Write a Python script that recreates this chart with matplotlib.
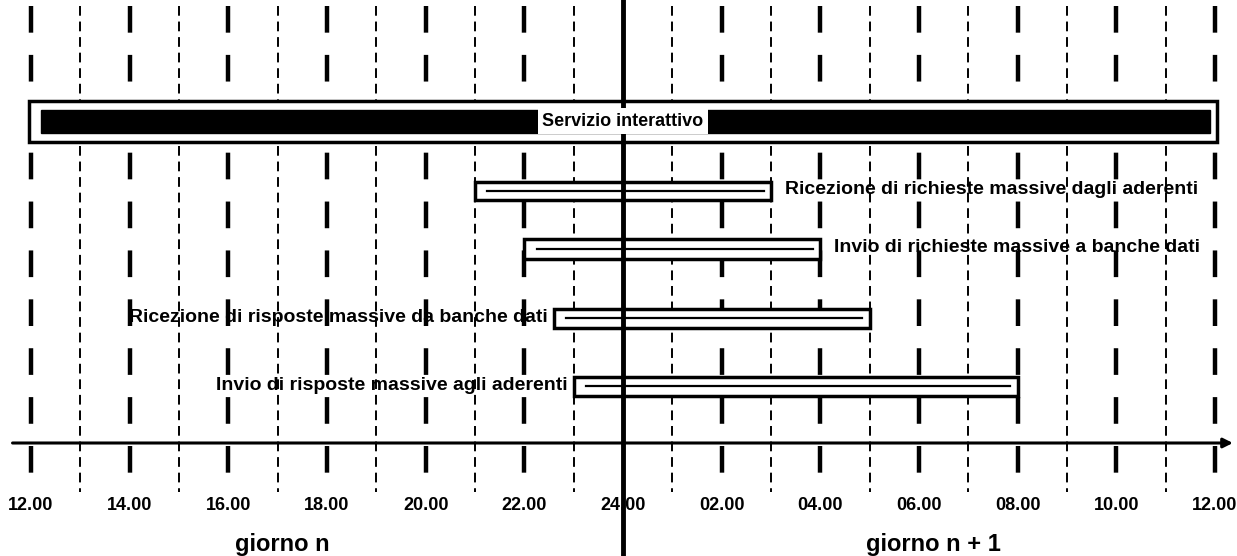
import matplotlib.pyplot as plt
import numpy as np

# Timeline of the batch services (hours counted from midnight of day n)
task_labels = ['Servizio interattivo',
               'Ricezione di richieste massive dagli aderenti',
               'Invio di richieste massive a banche dati',
               'Ricezione di risposte massive da banche dati',
               'Invio di risposte massive agli aderenti']
start_hours = [12, 21, 22, 22.6, 23]
end_hours = [36, 27, 28, 29, 32]
label_side = ['center', 'right', 'right', 'left', 'left']

tick_hours = list(range(12, 37, 2))
tick_labels = ['12.00', '14.00', '16.00', '18.00', '20.00', '22.00', '24.00',
               '02.00', '04.00', '06.00', '08.00', '10.00', '12.00']
day_labels = ['giorno n', 'giorno n + 1']
day_label_hours = [17.1, 30.3]

plt.rcParams['font.family'] = ['Liberation Sans', 'DejaVu Sans']

fig = plt.figure(figsize=(12.37, 5.56), dpi=100)
ax = fig.add_axes([0, 0, 1, 1])
ax.set_xlim(11.372, 36.447)
ax.set_ylim(556, 0)
ax.axis('off')

# hour grid: even hours bold dashes, odd hours thin dashes
for h in range(12, 37):
    if h == 24:
        continue
    if h % 2 == 0:
        ax.plot([h, h], [6, 492], color='black', lw=3.2, linestyle=(0, (6, 5)), zorder=1)
    else:
        ax.plot([h, h], [6, 492], color='black', lw=1.4, linestyle=(0, (5, 3)), zorder=1)

# midnight line
ax.plot([24, 24], [0, 556], color='black', lw=3.5, zorder=5)

# x axis with arrow
ax.annotate('', xy=(36.42, 443), xytext=(11.57, 443), annotation_clip=False,
            arrowprops=dict(arrowstyle='-|>', color='black', lw=2.2, mutation_scale=14),
            zorder=4)

# bars
y_centers = [121, 191, 249, 318, 386]
heights = [23, 18, 20, 19, 19]
for i, lab in enumerate(task_labels):
    s, e = start_hours[i], end_hours[i]
    if i == 0:
        ax.barh(y_centers[i], e - s + 0.1, left=s - 0.05, height=41,
                color='white', edgecolor='black', lw=2.5, zorder=3)
        ax.barh(y_centers[i], e - s - 0.3, left=s + 0.2, height=heights[i],
                color='black', edgecolor='black', lw=1, zorder=3)
        ax.text((s + e) / 2, y_centers[i], lab, ha='center', va='center',
                fontsize=13, fontweight='bold', zorder=6,
                bbox=dict(facecolor='white', edgecolor='none', pad=3))
    else:
        ax.barh(y_centers[i], e - s, left=s, height=heights[i],
                color='white', edgecolor='black', lw=2.5, zorder=3)
        ax.plot([s + 0.25, e - 0.15], [y_centers[i], y_centers[i]], color='black',
                lw=1.6, zorder=3)
        if label_side[i] == 'right':
            ax.text(e + 0.28, y_centers[i] - 2, lab, ha='left', va='center',
                    fontsize=14, fontweight='bold', zorder=6)
        else:
            ax.text(s - 0.12, y_centers[i], lab, ha='right', va='center',
                    fontsize=14, fontweight='bold', zorder=6)

# tick labels
for h, t in zip(tick_hours, tick_labels):
    ax.text(h, 506, t, ha='center', va='center', fontsize=13, fontweight='bold', zorder=6)

for h, t in zip(day_label_hours, day_labels):
    ax.text(h, 545, t, ha='center', va='center', fontsize=17, fontweight='bold')

fig.savefig('out.png', dpi=100, facecolor='white')
